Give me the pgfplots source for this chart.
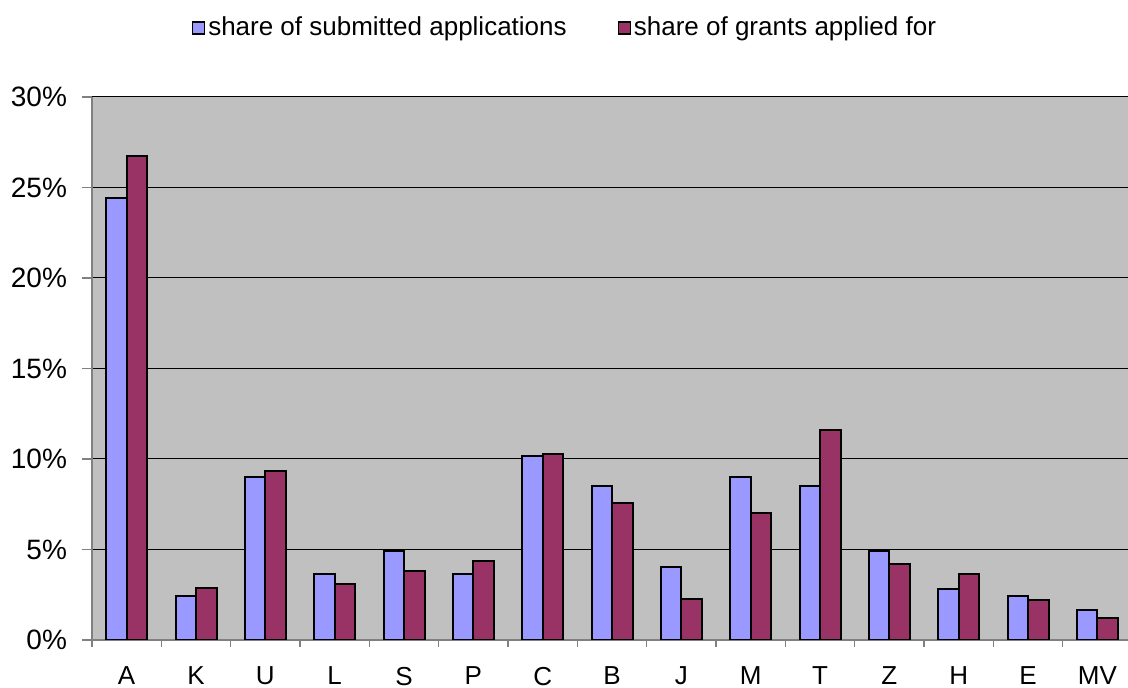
\documentclass[border=0pt]{standalone}
\usepackage{fontspec}
\setmainfont{Liberation Sans}
\usepackage{pgfplots}
\pgfplotsset{compat=1.18}
\definecolor{appblue}{HTML}{9999FF}
\definecolor{grantred}{HTML}{993366}
\definecolor{plotgray}{HTML}{C0C0C0}
\definecolor{axisgray}{HTML}{808080}
\begin{document}
\fontsize{13}{15}\selectfont
\begin{tikzpicture}
\useasboundingbox (-46pt,-24pt) rectangle (518pt,320pt);
\begin{axis}[
    at={(0,0)}, anchor=south west,
    scale only axis,
    width=520pt, height=271.5pt,
    ybar=0pt, bar width=10.25pt,
    xmin=-0.5, xmax=14.5,
    ymin=0, ymax=30,
    xtick={0,...,14},
    xticklabels={A,K,U,L,S,P,C,B,J,M,T,Z,H,E,MV},
    minor xtick={-0.5,0.5,...,14.5},
    ytick={0,5,...,30},
    yticklabel={\pgfmathparse{int(\tick)}\pgfmathresult\%},
    axis lines*=left,
    axis line style={axisgray, line width=0.6pt},
    tick align=outside,
    major tick length=5pt, minor tick length=3.5pt,
    major x tick style={draw=none},
    tick style={axisgray, line width=0.6pt},
    ymajorgrids=true,
    grid style={black, line width=0.5pt},
    axis background/.style={fill=plotgray},
    xticklabel style={yshift=-4pt},
    yticklabel style={xshift=-3pt, font=\fontsize{14}{16}\selectfont},
    legend columns=2,
    legend style={at={(0.4553,1.127)}, anchor=center, draw=none, fill=none,
        font=\fontsize{13}{15}\selectfont,
        nodes={inner xsep=1.5pt},
        /tikz/every even column/.append style={column sep=24pt}},
    legend image code/.code={\draw[#1, draw=black, line width=0.6pt] (0pt,-3pt) rectangle (6pt,3pt);},
]
\addplot[fill=appblue, draw=black, line width=1pt] coordinates {
    (0,24.4)(1,2.43)(2,8.99)(3,3.65)(4,4.92)(5,3.63)(6,10.17)(7,8.52)
    (8,4.05)(9,8.99)(10,8.52)(11,4.92)(12,2.83)(13,2.41)(14,1.64)
};
\addplot[fill=grantred, draw=black, line width=1pt] coordinates {
    (0,26.74)(1,2.86)(2,9.32)(3,3.09)(4,3.83)(5,4.38)(6,10.29)(7,7.57)
    (8,2.28)(9,7.0)(10,11.6)(11,4.18)(12,3.63)(13,2.19)(14,1.2)
};
\legend{share of submitted applications, share of grants applied for}
\end{axis}
\end{tikzpicture}
\end{document}
